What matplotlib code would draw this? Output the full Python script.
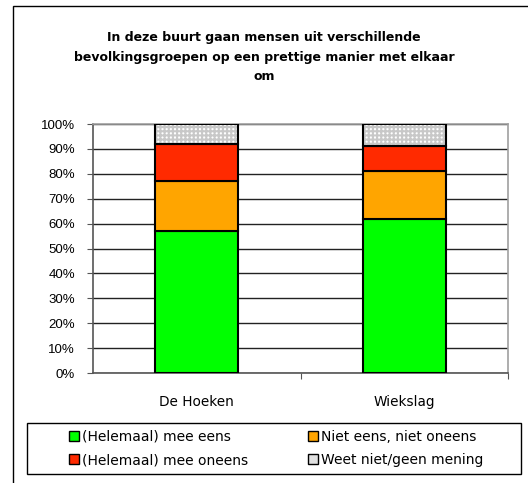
import matplotlib.pyplot as plt
import matplotlib.patches as mpatches
import numpy as np

plt.rcParams['font.family'] = ['DejaVu Sans']
plt.rcParams['hatch.linewidth'] = 1.5
plt.rcParams['hatch.color'] = '#c8c8c8'

wijken = ['De Hoeken', 'Wiekslag']
eens = [57, 62]
neutraal = [20, 19]
oneens = [15, 10]
weet_niet = [8, 9]
labels = ['(Helemaal) mee eens', 'Niet eens, niet oneens',
          '(Helemaal) mee oneens', 'Weet niet/geen mening']
kleuren = ['#00ff00', '#ffa500', '#ff2a00', '#ffffff']

fig = plt.figure(figsize=(5.28, 4.83), dpi=100)
# outer chart border
fig.patches.append(mpatches.Rectangle((13 / 528, -0.01), 1.0, 1 - 6 / 483 + 0.01,
                                      transform=fig.transFigure, fill=False,
                                      edgecolor='black', linewidth=1.0))

ax = fig.add_axes([93 / 528, 1 - 373 / 483, 415 / 528, 249 / 483])
x = np.arange(len(wijken))
series = [eens, neutraal, oneens, weet_niet]
bottom = np.zeros(len(wijken))
for i, vals in enumerate(series):
    if i == 3:
        ax.bar(x, vals, 0.4, bottom=bottom, color='#ffffff', edgecolor='#c8c8c8',
               hatch='++++', linewidth=0, zorder=3)
        ax.bar(x, vals, 0.4, bottom=bottom, fill=False, edgecolor='black',
               linewidth=1.5, zorder=4)
    else:
        ax.bar(x, vals, 0.4, bottom=bottom, color=kleuren[i], edgecolor='black',
               linewidth=1.5, zorder=3)
    bottom += np.array(vals)

ax.set_xlim(-0.5, 1.5)
ax.set_ylim(0, 100)
ax.set_yticks(np.arange(0, 101, 10))
ax.set_yticklabels([f'{v}%' for v in range(0, 101, 10)],
                   fontfamily='Liberation Sans', fontsize=9.5)
ax.yaxis.grid(True, color='#222222', linewidth=1.0, zorder=0)
ax.set_axisbelow(True)
ax.set_xticks([0.5, 1.5])
ax.set_xticklabels([])
ax.tick_params(axis='x', length=4, color='#555555')
ax.tick_params(axis='y', length=4, color='#555555', pad=9)
for i, w in enumerate(wijken):
    ax.text(i, -9, w, ha='center', va='top', fontsize=9.8, transform=ax.transData)
ax.spines['top'].set_color('#a0a0a0')
ax.spines['right'].set_color('#a0a0a0')
ax.spines['left'].set_color('#555555')
ax.spines['bottom'].set_color('#555555')
for s in ax.spines.values():
    s.set_linewidth(1.2)

fig.text(0.5, 1 - 57 / 483, 'In deze buurt gaan mensen uit verschillende\n'
         'bevolkingsgroepen op een prettige manier met elkaar\nom',
         ha='center', va='center', fontsize=9, fontweight='bold', linespacing=1.6)

# legend box drawn separately, entries placed inside it
fig.patches.append(mpatches.Rectangle((27 / 528, 1 - 474 / 483), 494 / 528, 51 / 483,
                                      transform=fig.transFigure, fill=False,
                                      edgecolor='black', linewidth=1.0))
# matplotlib fills the legend column by column
order = [0, 2, 1, 3]
patch_kleuren = ['#00ff00', '#ffa500', '#ff2a00', '#e0e0e0']
handles = [mpatches.Patch(facecolor=patch_kleuren[k], edgecolor='black') for k in order]
leg = fig.legend(handles, [labels[k] for k in order], ncol=2, loc='center',
                 bbox_to_anchor=(276 / 528, 1 - 448.5 / 483), frameon=False,
                 fontsize=10, handlelength=0.75, handleheight=0.75, handletextpad=0.2,
                 columnspacing=4.3, labelspacing=0.65, borderpad=0)

fig.savefig('out.png', dpi=100)
